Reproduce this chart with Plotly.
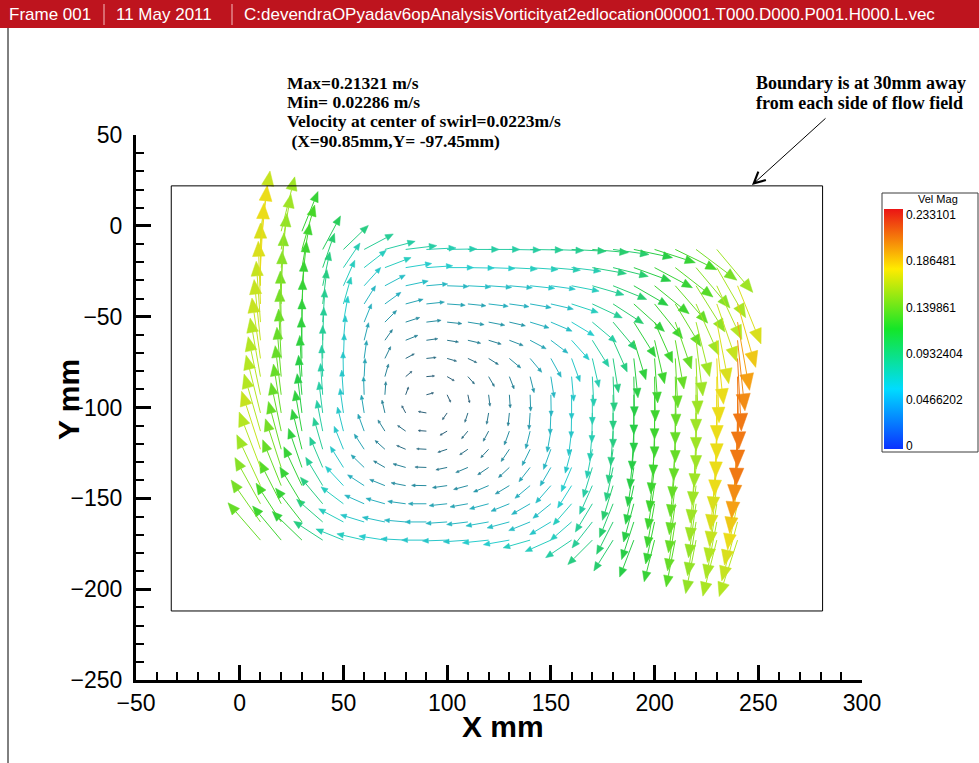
import math
import plotly.graph_objects as go

# ---------------- data ----------------
XS = [10, 20, 30, 40, 50, 60, 70, 80, 90, 100, 110, 120, 130, 140, 150, 160, 170, 180, 190, 200, 210, 220, 230, 240]
YS = [-3, -13, -23, -33, -43, -53, -63, -73, -83, -93, -103, -113, -123, -133, -143, -153, -163, -173]

# velocity magnitude in cm/s (0 = no vector at that grid node)
SPEED_CM = [
    [18.5, 17, 13, 0, 0, 0, 0, 0, 0, 0, 0, 0, 0, 0, 0, 0, 0, 0, 0, 0, 0, 0, 0, 0],
    [19.5, 17, 14, 11.5, 10.5, 10, 9.5, 9.5, 9, 9, 9.5, 9.5, 9.5, 10, 10, 10.5, 11, 11, 12, 13, 14, 15.5, 17, 0],
    [19.5, 16.5, 13.5, 11, 9, 8.5, 8.5, 8, 8, 8, 8, 8, 8.5, 8.5, 9, 9, 10.5, 11, 12, 13, 14.5, 16, 17.5, 0],
    [19, 16, 13.5, 10.5, 8.5, 7.5, 7, 7, 6.5, 6.5, 7, 7, 7, 7.5, 7.5, 8.5, 10, 11, 12, 13.5, 15, 16.5, 18, 19],
    [19, 16, 13, 10.5, 8.5, 6.5, 6, 5.5, 5.5, 5.5, 5.5, 6, 6, 6.5, 7, 8.5, 10, 11, 12.5, 13.5, 15, 17, 18.5, 20],
    [18.5, 15.5, 13, 10, 8, 6, 5, 4.5, 4.5, 4.5, 5, 5, 5, 6, 7, 8, 9.5, 11, 12.5, 13.5, 15, 17, 19, 21],
    [18.5, 15.5, 12.5, 10, 7.5, 5.5, 4, 4, 3.5, 3.5, 4, 4, 4.5, 5.5, 6.5, 8, 9.5, 10.5, 12.5, 13.5, 15, 17, 19.5, 21.5],
    [18.5, 15, 12.5, 10, 7.5, 5.5, 4, 3, 3, 3, 3, 3.5, 4.5, 5.5, 6.5, 7.5, 9, 10.5, 12, 13.5, 15, 17, 19.5, 22],
    [18, 15, 12.5, 9.5, 7.5, 5.5, 4, 2.5, 2.5, 2.5, 3, 3.5, 4, 5, 6.5, 7.5, 9, 10.5, 12, 13.5, 15, 17, 19.5, 22],
    [18, 15, 12, 9.5, 7.5, 5.5, 4, 2.5, 2.3, 2.5, 2.5, 3.5, 4, 5, 6.5, 7.5, 9, 10.5, 12, 13.5, 15, 17, 19.5, 22],
    [18, 15, 12, 9.5, 7.5, 5.5, 4, 2.5, 2.5, 2.5, 3, 3.5, 4, 5, 6.5, 7.5, 9, 10.5, 12, 13.5, 15, 17, 19.5, 22],
    [18, 15, 12.5, 9.5, 7.5, 5.5, 4, 3, 2.5, 2.5, 3, 3.5, 4.5, 5.5, 6.5, 7.5, 9, 10.5, 12, 13.5, 15, 17, 19.5, 21.5],
    [18.5, 15, 12.5, 10, 7.5, 5.5, 4, 3, 3, 3, 3, 3.5, 4.5, 5.5, 6.5, 7.5, 9, 10.5, 12, 13.5, 15, 17, 19, 21],
    [18, 15.5, 12.5, 10, 7.5, 5.5, 4, 4, 3.5, 3.5, 4, 4, 4.5, 5.5, 6.5, 8, 9.5, 10.5, 12, 13.5, 15, 17, 19, 20],
    [17, 15, 13, 10, 8, 6, 5, 4.5, 4.5, 4.5, 4.5, 5, 5, 6, 7, 8, 9.5, 11, 12, 13.5, 15, 17, 18.5, 19.5],
    [16, 14.5, 13, 10.5, 8.5, 6.5, 6, 5.5, 5.5, 5.5, 5.5, 6, 6, 6.5, 7, 8.5, 10, 11, 12, 13.5, 15, 16.5, 18, 19],
    [15.5, 14, 13, 10.5, 8.5, 7.5, 7, 6.5, 6.5, 6.5, 6.5, 7, 7, 7, 7.5, 8.5, 10, 11, 12, 13, 15, 16.5, 17.5, 18.5],
    [15, 13.5, 12.5, 10.5, 9, 8.5, 8, 7.5, 7.5, 7.5, 7.5, 8, 8, 8.5, 8.5, 9.5, 10.5, 11, 12, 13, 14.5, 16.5, 17.5, 18],
]

# vector direction in degrees (0 = +X, 90 = +Y)
ANGLE_DEG = [
    [81, 76, 68, 0, 0, 0, 0, 0, 0, 0, 0, 0, 0, 0, 0, 0, 0, 0, 0, 0, 0, 0, 0, 0],
    [84, 80, 74, 62, 44, 28, 15, 7, 3, 1, 0, 0, -1, -1, -2, -3, -5, -8, -12, -18, -26, -37, -50, 0],
    [87, 84, 80, 71, 56, 38, 21, 9, 4, 0, -1, -2, -3, -4, -5, -7, -10, -14, -20, -28, -38, -50, -60, 0],
    [90, 87, 84, 78, 66, 48, 28, 12, 5, -2, -3, -4, -5, -6, -8, -11, -16, -22, -30, -39, -49, -58, -65, -68],
    [92, 89, 87, 83, 74, 58, 36, 15, 6, -4, -6, -7, -8, -10, -13, -18, -25, -33, -42, -51, -59, -66, -71, -74],
    [94, 91, 89, 86, 80, 68, 45, 18, 7, -6, -9, -11, -13, -17, -23, -31, -40, -50, -58, -66, -71, -76, -79, -80],
    [96, 92, 90, 88, 85, 76, 55, 22, 8, -9, -13, -17, -21, -28, -37, -48, -58, -66, -73, -77, -80, -83, -84, -84],
    [98, 93, 91, 90, 88, 82, 64, 28, 6, -16, -25, -32, -40, -50, -61, -70, -77, -81, -84, -86, -87, -88, -88, -87],
    [100, 95, 93, 92, 91, 87, 74, 40, 5, -30, -48, -60, -69, -76, -81, -85, -87, -88, -89, -89, -89, -90, -90, -89],
    [102, 97, 95, 94, 94, 92, 86, 70, 15, -65, -78, -83, -86, -88, -89, -90, -90, -90, -90, -90, -90, -90, -90, -90],
    [104, 99, 97, 97, 98, 99, 103, 118, 170, -125, -108, -100, -96, -94, -92, -91, -91, -90, -90, -90, -90, -90, -91, -91],
    [106, 102, 100, 101, 104, 110, 122, 145, 176, -150, -130, -118, -110, -104, -100, -97, -95, -94, -93, -92, -92, -92, -92, -93],
    [108, 105, 104, 106, 112, 123, 138, 157, 177, -162, -146, -133, -124, -116, -110, -105, -101, -98, -96, -95, -94, -94, -94, -95],
    [111, 108, 109, 113, 122, 136, 150, 164, 178, -168, -157, -146, -137, -128, -120, -113, -107, -102, -99, -97, -96, -96, -96, -97],
    [115, 112, 115, 121, 133, 147, 158, 169, 179, -172, -165, -157, -149, -140, -131, -122, -114, -107, -102, -99, -97, -97, -97, -99],
    [119, 117, 121, 130, 143, 156, 164, 172, 180, -174, -170, -165, -158, -150, -141, -131, -121, -112, -105, -100, -98, -98, -99, -102],
    [125, 123, 128, 139, 152, 163, 168, 175, 180, -176, -173, -170, -165, -158, -149, -139, -128, -117, -108, -102, -99, -99, -101, -105],
    [131, 130, 136, 147, 158, 167, 171, 177, 180, -178, -176, -174, -170, -164, -156, -146, -135, -122, -111, -104, -101, -101, -104, -108],
]

X_TICKS = [-50, 0, 50, 100, 150, 200, 250, 300]
Y_TICKS = [50, 0, -50, -100, -150, -200, -250]
CBAR_TICKS = [0, 0.0466202, 0.0932404, 0.139861, 0.186481, 0.233101]
CBAR_LABELS = ["0", "0.0466202", "0.0932404", "0.139861", "0.186481", "0.233101"]
BOUNDARY_X = [-33, 281]
BOUNDARY_Y = [-212, 22]

# ---------------- layout geometry ----------------
W, H = 979, 763
ML, MR, MT, MB = 136, 117, 135, 83
XR = [-50, 300]
YR = [-250, 50]
PW, PH = W - ML - MR, H - MT - MB
PPX = PW / (XR[1] - XR[0])
PPY = PH / (YR[1] - YR[0])
LEN_PX_PER_CM = 3.3


def pp(px, py):
    return (px - ML) / PW, (H - MB - py) / PH


ARROW_STOPS = [
    (2, (45, 85, 110)), (4, (40, 130, 150)), (6, (40, 175, 190)), (8, (40, 205, 205)),
    (10, (40, 205, 150)), (12, (40, 205, 70)), (14, (70, 215, 40)), (16, (135, 225, 40)),
    (18, (180, 230, 35)), (19.5, (235, 220, 25)), (21, (245, 160, 20)), (22, (240, 120, 20)),
    (24, (230, 40, 20)),
]


def arrow_color(s):
    if s <= ARROW_STOPS[0][0]:
        c = ARROW_STOPS[0][1]
    elif s >= ARROW_STOPS[-1][0]:
        c = ARROW_STOPS[-1][1]
    else:
        for (s0, c0), (s1, c1) in zip(ARROW_STOPS[:-1], ARROW_STOPS[1:]):
            if s0 <= s <= s1:
                t = (s - s0) / (s1 - s0)
                c = tuple(c0[k] + t * (c1[k] - c0[k]) for k in range(3))
                break
    return "rgb(%d,%d,%d)" % tuple(int(round(v)) for v in c)


groups = {}
for i, y0 in enumerate(YS):
    for j, x0 in enumerate(XS):
        s = SPEED_CM[i][j]
        if s <= 0:
            continue
        a = math.radians(ANGLE_DEG[i][j])
        L = LEN_PX_PER_CM * s
        ux, uy = math.cos(a), math.sin(a)
        h = max(0.24 * L, 2.0)
        w = max(0.10 * L, 1.0)
        tip = (x0 + L * ux / PPX, y0 + L * uy / PPY)
        base = (x0 + (L - h) * ux / PPX, y0 + (L - h) * uy / PPY)
        nx, ny = -uy, ux
        c1 = (base[0] + w * nx / PPX, base[1] + w * ny / PPY)
        c2 = (base[0] - w * nx / PPX, base[1] - w * ny / PPY)
        key = round(s * 2) / 2
        g = groups.setdefault(key, {"lx": [], "ly": [], "hx": [], "hy": []})
        g["lx"] += [x0, base[0], None]
        g["ly"] += [y0, base[1], None]
        g["hx"] += [tip[0], c1[0], c2[0], tip[0], None]
        g["hy"] += [tip[1], c1[1], c2[1], tip[1], None]

fig = go.Figure()
for key in sorted(groups):
    g = groups[key]
    col = arrow_color(key)
    fig.add_trace(go.Scatter(x=g["lx"], y=g["ly"], mode="lines", line=dict(color=col, width=1),
                             hoverinfo="skip", showlegend=False))
    fig.add_trace(go.Scatter(x=g["hx"], y=g["hy"], mode="lines", fill="toself", fillcolor=col,
                             line=dict(color=col, width=0.5), hoverinfo="skip", showlegend=False))

CB_SCALE = [[0.0, "rgb(10,50,255)"], [0.25, "rgb(0,220,255)"], [0.5, "rgb(20,230,40)"],
            [0.75, "rgb(255,235,0)"], [1.0, "rgb(235,20,20)"]]
CB_MIN, CB_MAX = -0.003, 0.2392
cbx, _ = pp(884, 0)
_, cby = pp(0, 329)
fig.add_trace(go.Scatter(
    x=[None], y=[None], mode="markers", hoverinfo="skip", showlegend=False,
    marker=dict(color=[0], cmin=CB_MIN, cmax=CB_MAX, colorscale=CB_SCALE, showscale=True,
                colorbar=dict(
                    tickvals=CBAR_TICKS, ticktext=CBAR_LABELS, ticks="",
                    tickfont=dict(family="Arial", size=12, color="black"),
                    x=cbx, xanchor="left", xpad=0, y=cby, yanchor="middle", ypad=0,
                    len=240, lenmode="pixels", thickness=19, thicknessmode="pixels",
                    outlinewidth=0, borderwidth=0, bgcolor="rgba(0,0,0,0)",
                ))))

shapes = []
# boundary rectangle
shapes.append(dict(type="rect", xref="x", yref="y", x0=BOUNDARY_X[0], x1=BOUNDARY_X[1],
                   y0=BOUNDARY_Y[0], y1=BOUNDARY_Y[1], line=dict(color="black", width=1)))
# colour bar frame
b0 = pp(882, 193)
b1 = pp(978, 452)
shapes.append(dict(type="rect", xref="paper", yref="paper", x0=b0[0], x1=b1[0], y0=b1[1], y1=b0[1],
                   line=dict(color="rgb(60,60,60)", width=1)))
# header bar
hx0, hy0 = pp(0, 0)
hx1, hy1 = pp(W, 28)
shapes.append(dict(type="rect", xref="paper", yref="paper", x0=hx0, x1=hx1, y0=hy1, y1=hy0,
                   fillcolor="rgb(190,20,30)", line=dict(width=0), layer="above"))
for sx in (104, 232):
    a0 = pp(sx, 4)
    a1 = pp(sx, 25)
    shapes.append(dict(type="line", xref="paper", yref="paper", x0=a0[0], x1=a1[0], y0=a0[1], y1=a1[1],
                       line=dict(color="rgb(245,190,190)", width=1)))
# frame line at left
f0 = pp(8, 28)
f1 = pp(8, H)
shapes.append(dict(type="line", xref="paper", yref="paper", x0=f0[0], x1=f1[0], y0=f0[1], y1=f1[1],
                   line=dict(color="black", width=1)))

ann = []
HEAD_FONT = dict(family="Arial", size=17, color="white")
for txt, px in (("Frame 001", 7), ("11 May 2011", 114),
                ("C:devendraOPyadav6opAnalysisVorticityat2edlocation000001.T000.D000.P001.H000.L.vec", 242)):
    ax_, ay_ = pp(px, 14)
    ann.append(dict(text=txt, x=ax_, y=ay_, xref="paper", yref="paper", xanchor="left", yanchor="middle",
                    showarrow=False, font=HEAD_FONT))

vp = pp(938, 199)
ann.append(dict(text="Vel Mag", x=vp[0], y=vp[1], xref="paper", yref="paper", xanchor="center",
                yanchor="middle", showarrow=False, font=dict(family="Arial", size=11, color="black")))

SERIF = dict(family="Times New Roman, Liberation Serif, serif", size=17.5, color="black")
for txt, py in (("Max=0.21321 m/s", 83), ("Min= 0.02286 m/s", 102),
                ("Velocity at center of swirl=0.0223m/s", 121), (" (X=90.85mm,Y= -97.45mm)", 141)):
    ax_, ay_ = pp(286, py)
    ann.append(dict(text="<b>%s</b>" % txt, x=ax_, y=ay_, xref="paper", yref="paper", xanchor="left",
                    yanchor="middle", showarrow=False, font=SERIF, borderpad=0))
for txt, py in (("Boundary is at 30mm away", 83), ("from each side of flow field", 103)):
    ax_, ay_ = pp(755, py)
    ann.append(dict(text="<b>%s</b>" % txt, x=ax_, y=ay_, xref="paper", yref="paper", xanchor="left",
                    yanchor="middle", showarrow=False, font=dict(SERIF, size=18), borderpad=0))
hp = pp(752, 185)
ann.append(dict(text="", x=hp[0], y=hp[1], xref="paper", yref="paper", showarrow=True, ax=75, ay=-68,
                arrowhead=5, arrowsize=2.2, arrowwidth=1, arrowcolor="black"))
tp = pp(503, 726)
ann.append(dict(text="<b>X mm</b>", x=tp[0], y=tp[1], xref="paper", yref="paper", showarrow=False,
                xanchor="center", yanchor="middle", font=dict(family="Arial", size=30, color="black")))
tp = pp(68, 400)
ann.append(dict(text="<b>Y mm</b>", x=tp[0], y=tp[1], xref="paper", yref="paper", showarrow=False,
                xanchor="center", yanchor="middle", textangle=-90,
                font=dict(family="Arial", size=30, color="black")))

AX_COMMON = dict(showline=True, linewidth=3, linecolor="black", ticks="inside", ticklen=15, tickwidth=3,
                 tickcolor="black", showgrid=False, zeroline=False,
                 tickfont=dict(family="Arial", size=23, color="black"),
                 minor=dict(ticks="inside", ticklen=8, tickwidth=1.5, dtick=10, tickcolor="black", showgrid=False))

fig.update_layout(
    width=W, height=H, margin=dict(l=ML, r=MR, t=MT, b=MB, autoexpand=False),
    paper_bgcolor="white", plot_bgcolor="white",
    xaxis=dict(range=XR, tickvals=X_TICKS, ticklabelstandoff=0, **AX_COMMON),
    yaxis=dict(range=YR, tickvals=Y_TICKS, ticklabelstandoff=6, **AX_COMMON),
    shapes=shapes, annotations=ann, showlegend=False,
)

fig.write_html("out.html")
